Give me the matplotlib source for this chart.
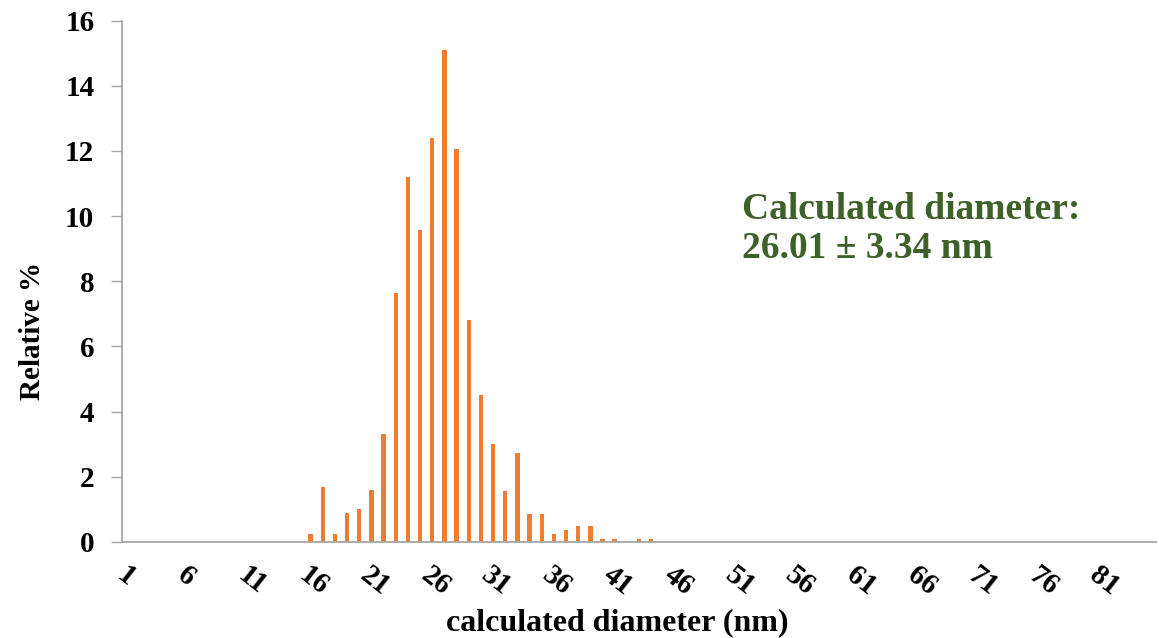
import numpy as np
import matplotlib
matplotlib.use("Agg")
import matplotlib.pyplot as plt

# size bins (nm), 1..85
diameters = np.arange(1, 86)

# relative % (bins 16..44, everything else zero)
nonzero_bins = [16, 17, 18, 19, 20, 21, 22, 23, 24, 25, 26, 27, 28, 29, 30,
                31, 32, 33, 34, 35, 36, 37, 38, 39, 40, 41, 43, 44]
nonzero_vals = [0.26, 1.70, 0.26, 0.90, 1.00, 1.60, 3.30, 7.63, 11.20, 9.57,
                12.40, 15.10, 12.06, 6.82, 4.52, 3.02, 1.58, 2.72, 0.87, 0.87,
                0.26, 0.38, 0.48, 0.48, 0.08, 0.08, 0.08, 0.08]

relative = np.zeros(len(diameters))
for b, v in zip(nonzero_bins, nonzero_vals):
    relative[b - 1] = v

tick_pos = [d for d in diameters if (d - 1) % 5 == 0]
tick_labels = [str(d) for d in tick_pos]
annot = "Calculated diameter:\n26.01 \u00b1 3.34 nm"

serif = ["Liberation Serif", "DejaVu Serif"]
plt.rcParams["font.family"] = serif
plt.rcParams["font.weight"] = "bold"

fig = plt.figure(figsize=(11.59, 6.38), dpi=100)
ax = fig.add_axes([0.1053, 0.1505, 0.8921, 0.8171])

ax.bar(diameters, relative, width=0.36, color="#ED7D31", edgecolor="none")

ax.set_xlim(0.5, 85.5)
ax.set_ylim(0, 16)
ax.set_yticks(np.arange(0, 17, 2))
ax.tick_params(axis="y", length=8, width=1, color="#A6A6A6", labelsize=21, pad=12)
ax.tick_params(axis="x", length=0, pad=14)

ax.set_xticks(tick_pos)
ax.set_xticklabels(tick_labels, rotation=-38, ha="left", va="top",
                   rotation_mode="anchor", fontsize=21, fontweight="bold")

for s in ["top", "right"]:
    ax.spines[s].set_visible(False)
for s in ["left", "bottom"]:
    ax.spines[s].set_color("#A6A6A6")
    ax.spines[s].set_linewidth(1.3)

ax.set_ylabel("Relative %", fontsize=21, fontweight="bold")
ax.yaxis.set_label_coords(-0.074, 0.405)
ax.set_xlabel("calculated diameter (nm)", fontsize=23, fontweight="bold")
ax.xaxis.set_label_coords(0.479, -0.128)

ax.text(0.5996, 0.545, annot, transform=ax.transAxes, fontsize=27,
        fontweight="bold", color="#3D6128", ha="left", va="baseline",
        linespacing=1.15)

fig.savefig("out.png", dpi=100)
